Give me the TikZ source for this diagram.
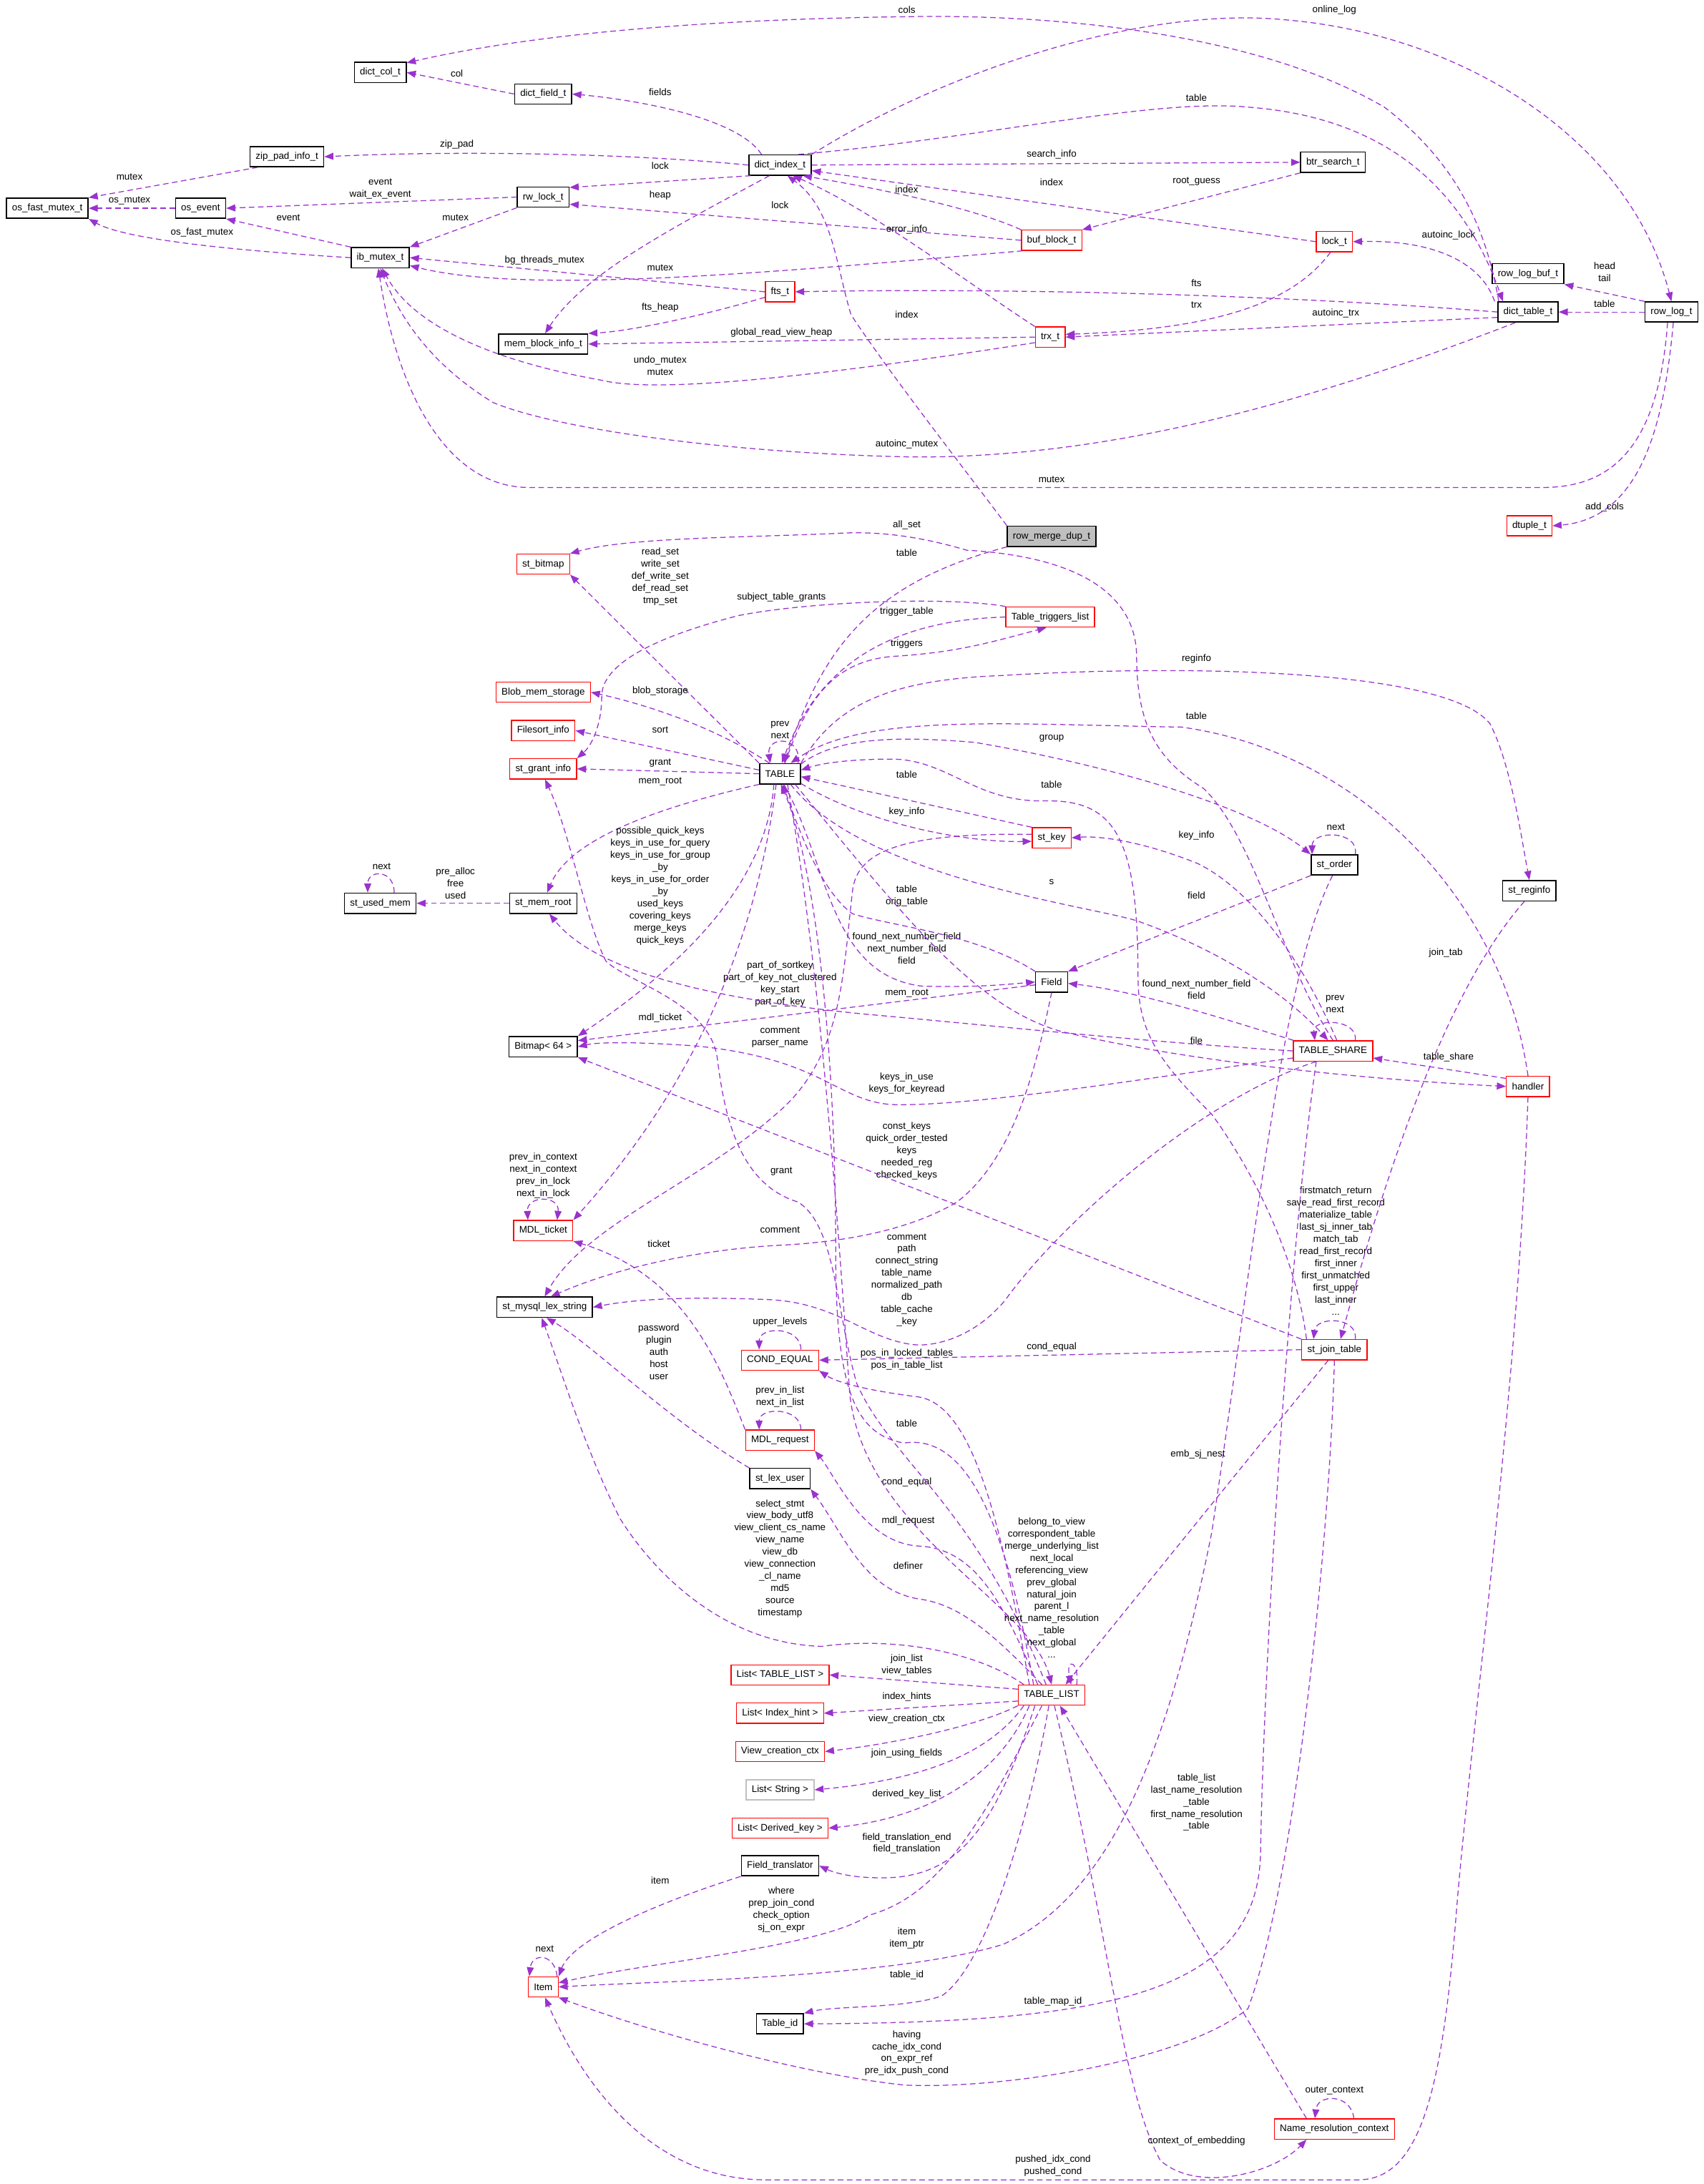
\documentclass[tikz,border=0pt]{standalone}
\usepackage{fontspec}
\setmainfont{Liberation Sans}
\usetikzlibrary{arrows.meta}
\definecolor{edgecol}{RGB}{154,50,205}
\tikzset{
  cls/.style={draw=black, line width=0.8pt, fill=white, minimum height=14.5pt, inner xsep=4pt, inner ysep=0pt, font=\fontsize{6.9}{8.7}\selectfont},
  redcls/.style={cls, draw=red, line width=0.7pt},
  dep/.style={edgecol, line width=0.65pt, dash pattern=on 4pt off 2.5pt, -{Triangle[length=6.5pt,width=5pt]}},
  both/.style={{Triangle[length=6.5pt,width=5pt]}-{Triangle[length=6.5pt,width=5pt]}},
  lbl/.style={text=black, font=\fontsize{6.9}{8.7}\selectfont, align=center, inner sep=0pt},
}
\begin{document}
\begin{tikzpicture}[x=1pt,y=-1pt]
\useasboundingbox (0,0) rectangle (1223,1568);

    \node[cls] (colt) at (273,52) {dict\_col\_t};
    \node[cls] (fieldt) at (390,67.5) {dict\_field\_t};
    \node[cls] (zippad) at (206,112.5) {zip\_pad\_info\_t};
    \node[cls] (dindex) at (560,118.5) {dict\_index\_t};
    \node[cls] (btrs) at (957,116.5) {btr\_search\_t};
    \node[cls] (osfm) at (34,149.5) {os\_fast\_mutex\_t};
    \node[cls] (osev) at (144,149.5) {os\_event};
    \node[cls] (rwlock) at (390,141.5) {rw\_lock\_t};
    \node[redcls] (bufblk) at (755,172.5) {buf\_block\_t};
    \node[redcls] (lockt) at (958,173.5) {lock\_t};
    \node[cls] (ibm) at (273,185) {ib\_mutex\_t};
    \node[cls] (rlogbuf) at (1097,196.5) {row\_log\_buf\_t};
    \node[redcls] (fts) at (560,209.5) {fts\_t};
    \node[cls] (dtable) at (1097,224) {dict\_table\_t};
    \node[cls] (rlog) at (1200,224) {row\_log\_t};
    \node[cls] (memblk) at (390,247) {mem\_block\_info\_t};
    \node[redcls] (trx) at (754,242) {trx\_t};
    \node[cls, fill=black!25] (rmdup) at (755,385) {row\_merge\_dup\_t};
    \node[redcls] (dtuple) at (1098,377.5) {dtuple\_t};

    \node[redcls] (bitmap) at (390,405) {st\_bitmap};
    \node[redcls] (trig) at (754,443) {Table\_triggers\_list};
    \node[redcls] (blob) at (390,497) {Blob\_mem\_storage};
    \node[redcls] (fsort) at (390,524.5) {Filesort\_info};
    \node[redcls] (grant) at (390,552) {st\_grant\_info};
    \node[cls] (table) at (560,555.5) {TABLE};
    \node[redcls] (key) at (755,601.5) {st\_key};
    \node[cls] (order) at (958,621) {st\_order};
    \node[cls] (reginfo) at (1098,639.5) {st\_reginfo};
    \node[cls] (usedmem) at (273,648.5) {st\_used\_mem};
    \node[cls] (memroot) at (390,648.5) {st\_mem\_root};
    \node[cls] (field) at (755,705) {Field};
    \node[cls] (bm64) at (390,751.5) {Bitmap< 64 >};
    \node[redcls] (share) at (957,754.5) {TABLE\_SHARE};
    \node[redcls] (handler) at (1097,780) {handler};
    \node[redcls] (mdlt) at (390,883.5) {MDL\_ticket};
    \node[cls] (lexstr) at (391,938.5) {st\_mysql\_lex\_string};
    \node[redcls] (condeq) at (560,976.5) {COND\_EQUAL};
    \node[redcls] (mdlr) at (560,1034) {MDL\_request};
    \node[cls] (lexuser) at (560,1061.5) {st\_lex\_user};
    \node[redcls] (jtab) at (958,969) {st\_join\_table};

    \node[redcls] (tlist) at (755,1217) {TABLE\_LIST};
    \node[redcls] (ltl) at (560,1202.5) {List< TABLE\_LIST >};
    \node[redcls] (lih) at (560,1230) {List< Index\_hint >};
    \node[redcls] (vcc) at (560,1257.5) {View\_creation\_ctx};
    \node[cls, draw=black!25] (lstr) at (560,1285) {List< String >};
    \node[redcls] (ldk) at (560,1312.5) {List< Derived\_key >};
    \node[cls] (ftr) at (560,1339.5) {Field\_translator};
    \node[redcls] (item) at (390,1426.5) {Item};
    \node[cls] (tid) at (560,1453) {Table\_id};
    \node[redcls] (nrc) at (958,1528.5) {Name\_resolution\_context};

    % innodb part
    \draw[dep] ([xshift=-21pt]dtable.north) .. controls (1068,170) and (1050,120) .. (994,77) .. controls (900,22) and (750,10) .. (650,12) .. controls (500,14) and (380,25) .. (colt.20) node[lbl] (l1) at (651,7) {cols};
    \draw[dep] (fieldt.west) -- (colt.east) node[lbl] (l2) at (328,53) {col};
    \draw[dep] (dindex.150) .. controls (530,85) and (460,72) .. (fieldt.east) node[lbl] (l3) at (474,66) {fields};
    \draw[dep] (dindex.west) .. controls (450,110) and (330,108) .. (zippad.east) node[lbl] (l4) at (328,104) {zip\_pad};
    \draw[dep] (dindex.200) -- (rwlock.20) node[lbl] (l5) at (474,119) {lock};
    \draw[dep] (dindex.225) .. controls (490,160) and (420,195) .. (memblk.80) node[lbl] (l6) at (474,140) {heap};
    \draw[dep] (bufblk.west) -- (rwlock.-15) node[lbl] (l7) at (560,147) {lock};
    \draw[dep] (zippad.200) -- (osfm.north east) node[lbl] (l8) at (93,127) {mutex};
    \draw[dep] (osev.west) -- (osfm.east) node[lbl] (l9) at (93,144) {os\_mutex};
    \draw[dep] (rwlock.west) -- (osev.east) node[lbl] (l10) at (273,135.5) {event\\wait\_ex\_event};
    \draw[dep] (ibm.north west) -- (osev.south east) node[lbl] (l11) at (207,156) {event};
    \draw[dep] (ibm.west) .. controls (170,180) and (90,172) .. (osfm.south east) node[lbl] (l12) at (145,167) {os\_fast\_mutex};
    \draw[dep] (rwlock.south west) -- (ibm.north east) node[lbl] (l13) at (327,156) {mutex};
    \draw[dep] (fts.west) -- (ibm.east) node[lbl] (l14) at (391,187) {bg\_threads\_mutex};
    \draw[dep] (bufblk.200) .. controls (560,195) and (380,212) .. (ibm.-15) node[lbl] (l15) at (474,192) {mutex};
    \draw[dep] (fts.200) .. controls (500,228) and (450,238) .. (memblk.north east) node[lbl] (l16) at (474,221) {fts\_heap};
    \draw[dep] (trx.west) -- (memblk.east) node[lbl] (l17) at (561,239) {global\_read\_view\_heap};
    \draw[dep] (trx.200) .. controls (640,262) and (480,285) .. (432,273) .. controls (370,262) and (300,240) .. (ibm.-80) node[lbl] (l18) at (474,262.5) {undo\_mutex\\mutex};
    \draw[dep] (dtable.-140) .. controls (950,285) and (800,330) .. (651,328) .. controls (520,325) and (400,308) .. (354,289) .. controls (315,265) and (290,235) .. (ibm.-90) node[lbl] (l19) at (651,319) {autoinc\_mutex};
    \draw[dep] (rlog.-110) .. controls (1190,330) and (1150,350) .. (1107,350) -- (380,350) .. controls (320,350) and (285,280) .. (ibm.-100) node[lbl] (l20) at (755,344) {mutex};
    \draw[dep] (rlog.-80) .. controls (1195,300) and (1180,372) .. (dtuple.east) node[lbl] (l21) at (1152,364) {add\_cols};
    \draw[dep] (rlog.north west) -- (rlogbuf.south east) node[lbl] (l22) at (1152,195.5) {head\\tail};
    \draw[dep] (rlog.west) -- (dtable.east) node[lbl] (l23) at (1152,218) {table};
    \draw[dep] ([xshift=-24pt]dtable.north) .. controls (1066,195) and (1040,172) .. (lockt.east) node[lbl] (l24) at (1040,169) {autoinc\_lock};
    \draw[dep] (dtable.west) .. controls (900,210) and (700,207) .. (fts.east) node[lbl] (l25) at (859,203) {fts};
    \draw[dep] (dtable.-170) -- (trx.east) node[lbl] (l26) at (959,225) {autoinc\_trx};
    \draw[dep] (lockt.-110) .. controls (930,215) and (880,236) .. (trx.10) node[lbl] (l27) at (859,219) {trx};
    \draw[dep] (lockt.west) -- (dindex.-10) node[lbl] (l28) at (755,131) {index};
    \draw[dep] (dindex.east) -- (btrs.west) node[lbl] (l29) at (755,111) {search\_info};
    \draw[dep] (btrs.south west) -- (bufblk.north east) node[lbl] (l30) at (859,130) {root\_guess};
    \draw[dep] (bufblk.north west) .. controls (700,150) and (640,137) .. (dindex.-25) node[lbl] (l31) at (651,136) {index};
    \draw[dep] (trx.north west) .. controls (690,200) and (625,150) .. (dindex.-40) node[lbl] (l32) at (651,165) {error\_info};
    \draw[dep] (rmdup.north west) .. controls (695,340) and (640,270) .. (611,226) .. controls (600,190) and (598,150) .. (dindex.-55) node[lbl] (l33) at (651,226) {index};
    \draw[dep] (dindex.30) .. controls (700,100) and (830,70) .. (897,77) .. controls (1000,85) and (1052,140) .. ([xshift=-18pt]dtable.north) node[lbl] (l34) at (859,70) {table};
    \draw[dep] (dindex.north east) .. controls (680,50) and (820,5) .. (920,14) .. controls (1050,24) and (1170,100) .. (rlog.north) node[lbl] (l35) at (958,7) {online\_log};

    % TABLE and its members
    \draw[dep] (rmdup.south west) .. controls (620,420) and (590,470) .. (table.70) node[lbl] (l36) at (651,397) {table};
    \draw[dep] (share.north) .. controls (920,690) and (900,600) .. (864,566) .. controls (830,545) and (816,520) .. (816,470) .. controls (815,430) and (780,400) .. (694,395) .. controls (660,385) and (630,381) .. (600,383) .. controls (530,386) and (450,386) .. (bitmap.north east) node[lbl] (l37) at (651,377) {all\_set};
    \draw[dep] (table.north west) -- (bitmap.south east) node[lbl] (l38) at (474,414) {read\_set\\write\_set\\def\_write\_set\\def\_read\_set\\tmp\_set};
    \draw[dep] (trig.west) .. controls (650,445) and (590,470) .. (table.80) node[lbl] (l39) at (651,439) {trigger\_table};
    \draw[dep] (table.65) .. controls (580,500) and (600,473) .. (645,471) .. controls (690,468) and (715,460) .. (trig.-110) node[lbl] (l40) at (651,462) {triggers};
    \draw[dep] (trig.north west) .. controls (680,428) and (580,432) .. (530,442) .. controls (460,460) and (432,480) .. (432,500) .. controls (432,520) and (425,535) .. (grant.north east) node[lbl] (l41) at (561,429) {subject\_table\_grants};
    \draw[dep] (table.135) .. controls (510,520) and (460,505) .. (blob.east) node[lbl] (l42) at (474,496) {blob\_storage};
    \draw[dep] (table.170) -- (fsort.east) node[lbl] (l43) at (474,524) {sort};
    \draw[dep] (table.west) -- (grant.east) node[lbl] (l44) at (474,548) {grant};
    \draw[dep] (table.south west) .. controls (480,578) and (410,600) .. (memroot.70) node[lbl] (l45) at (474,561) {mem\_root};
    \draw[dep] ([xshift=13pt]table.north) .. controls (576,528) and (550,528) .. ([xshift=-7pt]table.north) node[lbl] (l46) at (560,524) {prev\\next};
    \draw[dep] (table.-25) .. controls (620,590) and (690,605) .. (key.190) node[lbl] (l47) at (651,583) {key\_info};
    \draw[dep] (key.north west) -- (table.-8) node[lbl] (l48) at (651,556) {table};
    \draw[dep] (handler.north) .. controls (1080,650) and (980,540) .. (848,522) .. controls (720,520) and (620,512) .. (table.45) node[lbl] (l49) at (859,514) {table};
    \draw[dep] (table.north east) .. controls (600,505) and (640,488) .. (719,485) .. controls (850,477) and (1040,480) .. (1070,520) .. controls (1085,550) and (1092,600) .. (reginfo.north) node[lbl] (l50) at (859,473) {reginfo};
    \draw[dep] (table.25) .. controls (600,530) and (640,528) .. (700,533) .. controls (800,550) and (900,580) .. (order.north west) node[lbl] (l51) at (755,530) {group};
    \draw[dep] (table.-45) .. controls (620,630) and (780,650) .. (816,661) .. controls (870,680) and (920,710) .. (share.115) node[lbl] (l52) at (755,633) {s};
    \draw[dep] (share.70) .. controls (935,690) and (900,640) .. (860,620) .. controls (820,604) and (790,600) .. (key.east) node[lbl] (l53) at (859,600) {key\_info};
    \draw[dep] (order.south west) -- (field.north east) node[lbl] (l54) at (859,643) {field};
    \draw[dep] (share.165) .. controls (890,735) and (820,712) .. (field.-5) node[lbl] (l55) at (859,710.5) {found\_next\_number\_field\\field};
    \draw[dep] (table.-70) .. controls (595,620) and (595,700) .. (662,708) .. controls (700,709) and (720,707) .. (field.west) node[lbl] (l56) at (651,681) {found\_next\_number\_field\\next\_number\_field\\field};
    \draw[dep] (field.north west) .. controls (700,670) and (640,665) .. (612,656) .. controls (590,640) and (575,600) .. (table.-75) node[lbl] (l57) at (651,643.5) {table\\orig\_table};
    \draw[dep] (field.190) -- (bm64.10) node[lbl] (l58) at (560,706.5) {part\_of\_sortkey\\part\_of\_key\_not\_clustered\\key\_start\\part\_of\_key};
    \draw[dep] (share.west) .. controls (820,748) and (700,735) .. (620,728) .. controls (520,718) and (430,700) .. (memroot.-60) node[lbl] (l59) at (651,713) {mem\_root};
    \draw[dep] (table.-120) .. controls (550,640) and (480,700) .. (bm64.north east) node[lbl] (l60) at (474,636) {possible\_quick\_keys\\keys\_in\_use\_for\_query\\keys\_in\_use\_for\_group\\\_by\\keys\_in\_use\_for\_order\\\_by\\used\_keys\\covering\_keys\\merge\_keys\\quick\_keys};
    \draw[dep] (share.-170) .. controls (850,770) and (700,795) .. (640,793) .. controls (600,790) and (590,760) .. (500,751) .. controls (460,748) and (430,748) .. (bm64.east) node[lbl] (l61) at (651,778) {keys\_in\_use\\keys\_for\_keyread};
    \draw[dep] (jtab.north west) -- (bm64.south east) node[lbl] (l62) at (651,826.5) {const\_keys\\quick\_order\_tested\\keys\\needed\_reg\\checked\_keys};
    \draw[dep, both] ([xshift=10pt]mdlt.north) .. controls (402,858) and (378,858) .. ([xshift=-11pt]mdlt.north) node[lbl] (l63) at (390,844) {prev\_in\_context\\next\_in\_context\\prev\_in\_lock\\next\_in\_lock};
    \draw[dep] (table.-110) .. controls (540,700) and (480,800) .. (mdlt.north east) node[lbl] (l64) at (474,731) {mdl\_ticket};
    \draw[dep] (mdlr.north west) .. controls (515,975) and (490,915) .. (mdlt.south east) node[lbl] (l65) at (473,893) {ticket};
    \draw[dep] ([xshift=-12pt]share.south) .. controls (860,790) and (760,880) .. (722,933) .. controls (700,960) and (670,968) .. (653,965) .. controls (620,960) and (600,935) .. (551,933) .. controls (500,931) and (460,932) .. (lexstr.east) node[lbl] (l66) at (651,919) {comment\\path\\connect\_string\\table\_name\\normalized\_path\\db\\table\_cache\\\_key};
    \draw[dep] (field.south) .. controls (745,760) and (730,830) .. (687,863) .. controls (650,885) and (600,892) .. (560,894) .. controls (520,896) and (455,905) .. (lexstr.60) node[lbl] (l67) at (560,883) {comment};
    \draw[dep] (key.170) .. controls (650,598) and (615,610) .. (612,640) .. controls (605,700) and (605,760) .. (557,800) .. controls (500,850) and (420,880) .. (lexstr.north) node[lbl] (l68) at (560,744.5) {comment\\parser\_name};
    \draw[dep] (lexuser.north west) .. controls (480,1020) and (425,965) .. (lexstr.-80) node[lbl] (l69) at (473,970.5) {password\\plugin\\auth\\host\\user};

    % TABLE_LIST and the join side
    \draw[dep] ([xshift=-20pt]tlist.north) .. controls (700,1185) and (640,1175) .. (590,1182) .. controls (520,1180) and (470,1130) .. (445,1090) .. controls (420,1040) and (405,990) .. (lexstr.-105) node[lbl] (l70) at (560,1119) {select\_stmt\\view\_body\_utf8\\view\_client\_cs\_name\\view\_name\\view\_db\\view\_connection\\\_cl\_name\\md5\\source\\timestamp};
    \draw[dep] ([xshift=15pt]condeq.north) .. controls (575,952) and (545,952) .. ([xshift=-15pt]condeq.north) node[lbl] (l71) at (560,949) {upper\_levels};
    \draw[dep] (jtab.west) -- (condeq.east) node[lbl] (l72) at (755,967) {cond\_equal};
    \draw[dep] ([xshift=-16pt]tlist.north) .. controls (720,1100) and (700,1010) .. (660,1003) .. controls (620,998) and (600,992) .. (condeq.south east) node[lbl] (l73) at (651,1064) {cond\_equal};
    \draw[dep] ([xshift=-13pt]tlist.north) .. controls (720,1080) and (690,1030) .. (649,1036) .. controls (615,1030) and (600,1000) .. (600,900) .. controls (600,750) and (585,620) .. (table.-85) node[lbl] (l74) at (651,1022) {table};
    \draw[dep] (table.-55) .. controls (590,700) and (603,900) .. (610,1000) .. controls (620,1100) and (740,1150) .. (tlist.north) node[lbl] (l75) at (651,976) {pos\_in\_locked\_tables\\pos\_in\_table\_list};
    \draw[dep] ([xshift=-10pt]tlist.north) .. controls (720,1150) and (700,1112) .. (660,1110) .. controls (620,1108) and (600,1060) .. (mdlr.south east) node[lbl] (l76) at (652,1092) {mdl\_request};
    \draw[dep] ([xshift=-7pt]tlist.north) .. controls (715,1175) and (690,1152) .. (660,1148) .. controls (620,1142) and (605,1100) .. (lexuser.south east) node[lbl] (l77) at (652,1124) {definer};
    \draw[dep] ([xshift=-4pt]tlist.north) .. controls (700,1080) and (640,1050) .. (615,993) .. controls (600,940) and (600,880) .. (573,863) .. controls (530,850) and (520,800) .. (515,760) .. controls (510,720) and (450,705) .. (435,690) .. controls (420,660) and (410,600) .. (grant.-80) node[lbl] (l78) at (561,841) {grant};
    \draw[dep] ([xshift=15pt]mdlr.north) .. controls (575,1010) and (545,1010) .. ([xshift=-15pt]mdlr.north) node[lbl] (l79) at (560,1003) {prev\_in\_list\\next\_in\_list};
    \draw[dep] ([xshift=15pt]jtab.north) .. controls (975,945) and (945,945) .. ([xshift=-15pt]jtab.north) node[lbl] (l80) at (959,898) {firstmatch\_return\\save\_read\_first\_record\\materialize\_table\\last\_sj\_inner\_tab\\match\_tab\\read\_first\_record\\first\_inner\\first\_unmatched\\first\_upper\\last\_inner\\...};
    \draw[dep] ([xshift=-20pt]jtab.north) .. controls (930,900) and (899,840) .. (870,800) .. controls (830,760) and (817,740) .. (817,700) .. controls (817,600) and (800,574) .. (750,575) .. controls (700,576) and (680,545) .. (640,545) .. controls (610,545) and (590,548) .. (table.10) node[lbl] (l81) at (755,563) {table};
    \draw[dep] (jtab.-120) -- ([xshift=10pt]tlist.north) node[lbl] (l82) at (860,1044) {emb\_sj\_nest};
    \draw[dep] (reginfo.-115) .. controls (1030,720) and (985,880) .. (jtab.60) node[lbl] (l83) at (1038,684) {join\_tab};
    \draw[dep] ([xshift=18pt]tlist.north) .. controls (775,1192) and (765,1190) .. ([xshift=14pt]tlist.north) node[lbl] (l84) at (755,1140) {belong\_to\_view\\correspondent\_table\\merge\_underlying\_list\\next\_local\\referencing\_view\\prev\_global\\natural\_join\\parent\_l\\next\_name\_resolution\\\_table\\next\_global\\...};
    \draw[dep] (tlist.170) -- (ltl.east) node[lbl] (l85) at (651,1195.5) {join\_list\\view\_tables};
    \draw[dep] (tlist.-170) -- (lih.east) node[lbl] (l86) at (651,1218) {index\_hints};
    \draw[dep] (tlist.south west) .. controls (700,1240) and (640,1252) .. (vcc.east) node[lbl] (l87) at (651,1234) {view\_creation\_ctx};
    \draw[dep] ([xshift=-20pt]tlist.south) .. controls (710,1260) and (660,1278) .. (lstr.east) node[lbl] (l88) at (651,1259) {join\_using\_fields};
    \draw[dep] ([xshift=-16pt]tlist.south) .. controls (715,1280) and (660,1306) .. (ldk.east) node[lbl] (l89) at (651,1288) {derived\_key\_list};
    \draw[dep] ([xshift=-12pt]tlist.south) .. controls (715,1310) and (690,1345) .. (640,1348) .. controls (615,1349) and (600,1345) .. (ftr.east) node[lbl] (l90) at (651,1323.5) {field\_translation\_end\\field\_translation};
    \draw[dep] ([xshift=-7pt]tlist.south) .. controls (700,1320) and (670,1362) .. (624,1375) .. controls (590,1398) and (470,1408) .. (item.15) node[lbl] (l91) at (561,1371) {where\\prep\_join\_cond\\check\_option\\sj\_on\_expr};
    \draw[dep] (ftr.south west) .. controls (460,1370) and (410,1395) .. (item.north east) node[lbl] (l92) at (474,1350) {item};
    \draw[dep] ([xshift=10pt]item.north) .. controls (398,1402) and (382,1402) .. ([xshift=-10pt]item.north) node[lbl] (l93) at (391,1399) {next};
    \draw[dep] (order.-100) .. controls (920,700) and (900,900) .. (870,1100) .. controls (840,1250) and (800,1360) .. (720,1396) .. controls (640,1420) and (480,1422) .. (item.east) node[lbl] (l94) at (651,1391.5) {item\\item\_ptr};
    \draw[dep] ([xshift=-12pt]share.south) .. controls (925,900) and (907,1200) .. (905,1330) .. controls (903,1430) and (800,1452) .. (tid.east) node[lbl] (l95) at (756,1437) {table\_map\_id};
    \draw[dep] ([xshift=-2pt]tlist.south) .. controls (740,1300) and (710,1410) .. (676,1433) .. controls (650,1442) and (600,1440) .. (tid.north east) node[lbl] (l96) at (651,1418) {table\_id};
    \draw[dep] (handler.south) .. controls (1090,1000) and (1055,1250) .. (1045,1380) .. controls (1035,1500) and (1020,1565) .. (975,1565) -- (550,1565) .. controls (470,1565) and (420,1500) .. (item.-80) node[lbl] (l97) at (756,1555) {pushed\_idx\_cond\\pushed\_cond};
    \draw[dep] (jtab.south) .. controls (955,1100) and (930,1350) .. (896,1442) .. controls (850,1480) and (720,1500) .. (650,1497) .. controls (580,1490) and (470,1460) .. (item.south east) node[lbl] (l98) at (651,1474) {having\\cache\_idx\_cond\\on\_expr\_ref\\pre\_idx\_push\_cond};
    \draw[dep] ([xshift=-20pt]nrc.north) -- ([xshift=6pt]tlist.south) node[lbl] (l99) at (859,1294) {table\_list\\last\_name\_resolution\\\_table\\first\_name\_resolution\\\_table};
    \draw[dep] ([xshift=2pt]tlist.south) .. controls (795,1380) and (805,1500) .. (833,1551) .. controls (860,1575) and (915,1560) .. ([xshift=-20pt]nrc.south) node[lbl] (l100) at (859,1537) {context\_of\_embedding};
    \draw[dep] ([xshift=14pt]nrc.north) .. controls (970,1503) and (946,1503) .. ([xshift=-14pt]nrc.north) node[lbl] (l101) at (958,1501) {outer\_context};

    % handler, share and the small ones
    \draw[dep] (handler.160) -- (share.-10) node[lbl] (l102) at (1040,759) {table\_share};
    \draw[dep] (table.-35) .. controls (650,660) and (700,722) .. (760,740) .. controls (850,762) and (980,775) .. (handler.west) node[lbl] (l103) at (859,747) {file};
    \draw[dep] ([xshift=16pt]share.north) .. controls (975,731) and (942,731) .. ([xshift=-13pt]share.north) node[lbl] (l104) at (958.5,721) {prev\\next};
    \draw[dep] ([xshift=15pt]order.north) .. controls (976,596) and (942,596) .. ([xshift=-16pt]order.north) node[lbl] (l105) at (959,594) {next};
    \draw[dep] (memroot.west) -- (usedmem.east) node[lbl] (l106) at (327,634) {pre\_alloc\\free\\used};
    \draw[dep] ([xshift=10pt]usedmem.north) .. controls (283,624) and (264,624) .. ([xshift=-9pt]usedmem.north) node[lbl] (l107) at (274,622) {next};

\end{tikzpicture}
\end{document}
